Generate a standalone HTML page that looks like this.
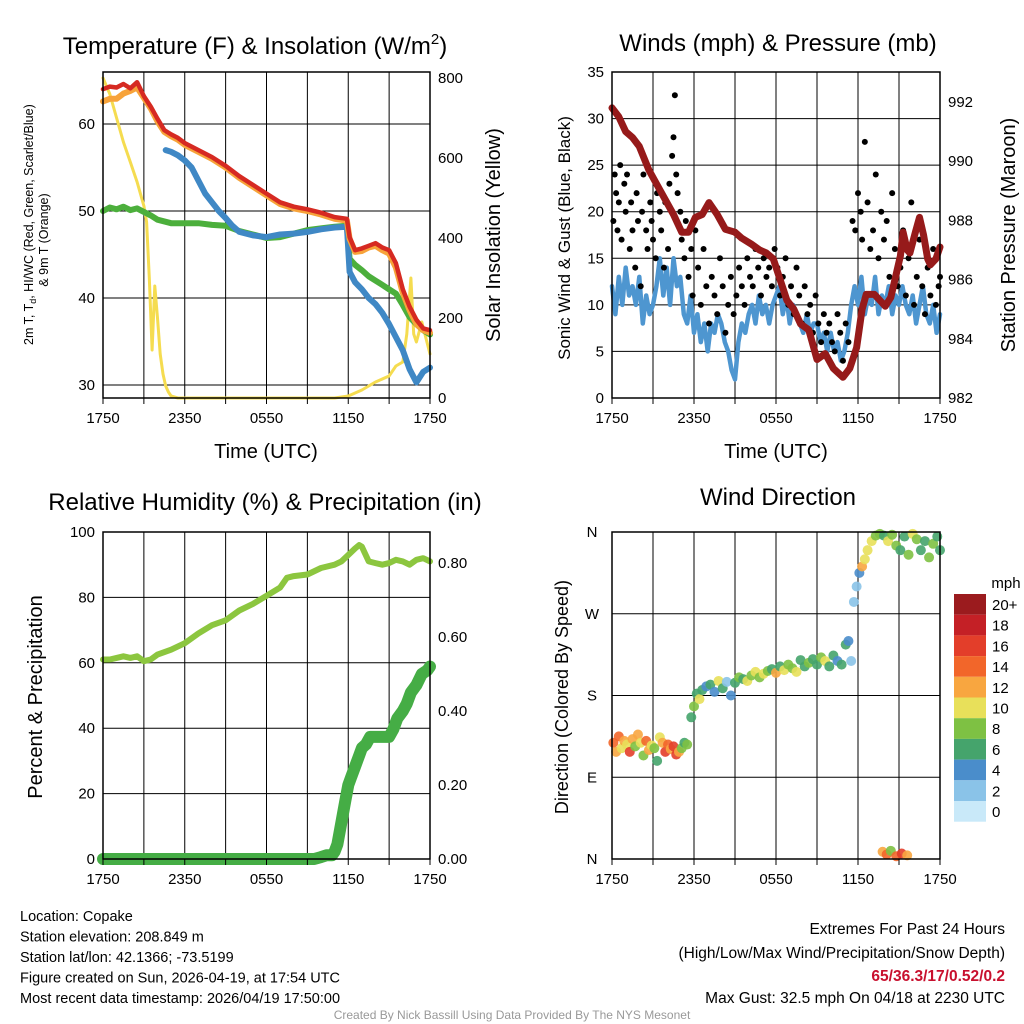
<!DOCTYPE html>
<html><head><meta charset="utf-8">
<style>
body{margin:0;background:#fff;}
svg{display:block;font-family:"Liberation Sans",sans-serif;}
</style></head>
<body>
<svg id="c" width="1024" height="1024" viewBox="0 0 1024 1024"></svg>
<script>
// ---------- DATA ----------
const xTickLabels = ["1750","2350","0550","1150","1750"];
const tempHours = [0,0.5,1,1.5,2,2.5,3,3.5,4,4.5,5,5.5,6,7,8,9,10,11,12,13,14,15,16,17,17.9,18.1,18.5,19,19.5,20,20.5,21,21.5,22,22.5,23,23.5,24];
const tempRed   = [64,64.3,64.2,64.6,64.1,64.8,63.2,62,60.6,59.3,58.8,58.4,57.8,57,56.2,55.2,54,53,52,51,50.5,50.2,49.8,49.3,49.1,47,45.5,45.7,46,46.3,45.8,45.5,44,41,39,37.5,36.5,36.3];
const tempOrange= [62.6,62.9,62.9,63.5,63.8,64.2,63,61.8,60.3,59.1,58.6,58.2,57.6,56.8,56,55,53.8,52.8,51.8,50.8,50.3,50,49.6,49.1,48.9,46.8,45.3,45.4,45.8,46,45.5,45.1,43.5,40.6,38.6,37,36.3,36];
const dewHours  = [0,0.5,1,1.5,2,2.5,3,3.5,4,5,6,7,8,9,10,11,12,13,14,15,16,17,17.9,18.1,18.5,19,19.5,20,20.5,21,21.5,22,22.5,23,23.5,24];
const dewGreen  = [50,50.4,50.2,50.5,50.1,50.3,49.9,49.5,49,48.6,48.6,48.6,48.4,48.3,47.7,47.3,46.9,47,47.4,47.8,48,48.2,48.3,44.5,43.8,43.2,42.5,42,41.5,41,40.5,39.2,37.8,37,36.3,35.8];
const hiHours   = [4.6,5,5.5,6,6.5,7,7.5,8,8.5,9,9.5,10,11,12,13,14,15,16,17,17.9,18.1,18.5,19,19.5,20,20.5,21,21.5,22,22.5,23,23.5,24];
const hiBlue    = [57,56.8,56.4,55.8,55,53.5,52,51,50,49.2,48.3,47.6,47.2,47,47.3,47.4,47.6,47.9,48.1,48.2,43,41.8,41,40,39.3,38.3,37,35.5,34,31.8,30.3,31.5,32];
const solarHours= [0,0.5,1,1.5,2,2.5,3,3.2,3.4,3.6,3.8,4.0,4.2,4.4,4.6,4.8,5,5.5,6,17,18,19,20,21,21.5,22,22.3,22.6,22.8,23,23.4,24];
const solarWm2  = [800,760,700,640,590,540,480,440,300,120,280,200,110,60,30,15,5,0,0,0,5,20,40,55,80,90,160,300,160,140,190,110];
const windHours = [0,0.25,0.5,0.75,1,1.25,1.5,1.75,2,2.25,2.5,2.75,3,3.25,3.5,3.75,4,4.25,4.5,4.75,5,5.25,5.5,5.75,6,6.25,6.5,6.75,7,7.25,7.5,7.75,8,8.25,8.5,8.75,9,9.25,9.5,9.75,10,10.25,10.5,10.75,11,11.25,11.5,11.75,12,12.25,12.5,12.75,13,13.25,13.5,13.75,14,14.25,14.5,14.75,15,15.25,15.5,15.75,16,16.25,16.5,16.75,17,17.25,17.5,17.75,18,18.25,18.5,18.75,19,19.25,19.5,19.75,20,20.25,20.5,20.75,21,21.25,21.5,21.75,22,22.25,22.5,22.75,23,23.25,23.5,23.75,24];
const sonicWind = [12,9,13,10,14,11,12,10,13,8,11,9,10,12,15,11,14,10,15,12,13,9,8,11,7,9,6,8,5,8,7,9,8,6,5,3,2,6,8,7,9,10,8,11,9,10,8,10,11,12,9,11,8,10,9,8,7,9,7,8,8,6,7,5,7,5,6,4,5,7,10,12,10,13,9,11,10,13,9,11,10,12,9,11,10,12,10,9,11,8,10,12,9,8,10,7,9,6,8];
const gustHours = [0.1,0.2,0.3,0.4,0.5,0.6,0.7,0.9,1.0,1.1,1.3,1.4,1.5,1.7,1.8,1.9,2.1,2.2,2.3,2.5,2.6,2.8,2.9,3.0,3.2,3.3,3.5,3.6,3.8,3.9,4.1,4.2,4.4,4.5,4.6,4.7,4.8,5.0,5.1,5.3,5.4,5.6,5.8,5.9,6.1,6.3,6.5,6.7,6.9,7.1,7.3,7.5,7.7,7.9,8.1,8.3,8.5,8.7,8.9,9.1,9.3,9.5,9.7,9.9,10.1,10.3,10.5,10.7,10.9,11.1,11.3,11.5,11.7,11.9,12.1,12.3,12.5,12.7,12.9,13.1,13.3,13.5,13.7,13.9,14.1,14.3,14.5,14.7,14.9,15.1,15.3,15.5,15.7,15.9,16.1,16.3,16.5,16.7,16.9,17.1,17.3,17.6,17.8,18.0,18.2,18.3,18.5,18.7,18.9,19.1,19.3,19.5,19.7,19.9,20.1,20.3,20.5,20.7,20.9,21.1,21.3,21.5,21.7,21.9,22.1,22.3,22.5,22.7,22.9,23.1,23.3,23.5,23.7,23.9,24];
const gustMph   = [19,24,22,18,21,25,17,23,20,24,16,21,18,14,22,19,12,20,24,18,16,21,19,17,15,22,20,18,14,21,16,23,26,28,32.5,24,22,20,17,15,19,13,16,11,18,14,10,16,12,8,13,11,9,15,12,7,10,13,9,11,14,12,10,15,13,12,16,14,11,15,13,14,12,16,14,11,13,15,10,12,9,14,11,8,12,9,10,7,11,8,6,9,7,8,6,5,9,7,4,8,6,19,18,22,20,17,27.5,21,16,18,24,15,20,17,19,13,22,16,12,14,18,11,15,21,10,13,17,12,9,14,11,16,10,12,13];
const presHours = [0,0.5,1,1.5,2,2.7,3.3,3.9,4.5,5.1,5.6,6.1,6.6,7.1,7.7,8.3,9,9.5,10.2,10.8,11.3,11.8,12.3,12.8,13.3,13.8,14.4,15,15.6,16.2,16.9,17.4,17.9,18.3,18.6,19.2,20,20.4,20.8,21.1,21.3,21.6,21.8,22.2,22.5,22.8,23.1,23.3,23.7,24];
const pressure  = [991.8,991.5,991.0,990.8,990.5,989.7,989.2,988.7,988.2,987.6,987.6,988.1,988.2,988.6,988.2,987.7,987.6,987.4,987.2,987.0,986.9,986.7,986.0,985.3,985.0,984.5,984.3,983.3,983.5,983.0,982.7,983.0,983.7,985.0,985.5,985.5,985.1,985.4,986.2,986.8,987.6,987.0,986.9,987.6,988.1,987.5,986.7,986.5,986.7,987.1];
const rhHours   = [0,0.5,1,1.5,2,2.5,3,3.5,4,5,6,7,8,9,10,11,12,13,13.5,14,15,16,17,17.5,18,18.5,18.8,19,19.5,20,20.5,21,21.5,22,22.5,23,23.5,24];
const rhPct     = [61,61,61.5,62,61.5,62,60.5,61,62.5,64,66,69,71.5,73,76,78,80.5,83,86,86.5,87,89,90,91,93,95,96,95.5,91,90.5,90,90.5,91.5,91,90,91.5,92,91];
const pcpHours  = [0,2,4,6,8,10,12,14,15.5,16,16.4,16.8,17,17.2,17.4,17.6,17.8,18,18.2,18.5,18.8,19,19.3,19.6,20,20.5,21,21.3,21.6,22,22.3,22.6,23,23.4,23.8,24];
const pcpIn     = [0,0,0,0,0,0,0,0,0,0.005,0.01,0.01,0.02,0.04,0.08,0.12,0.16,0.2,0.22,0.25,0.28,0.3,0.31,0.33,0.33,0.33,0.33,0.35,0.38,0.4,0.42,0.45,0.47,0.5,0.51,0.52];
const dirHours = [0.1,0.3,0.5,0.7,0.9,1.1,1.3,1.5,1.7,1.9,2.1,2.3,2.5,2.7,2.9,3.1,3.3,3.5,3.7,3.9,4.1,4.3,4.5,4.7,4.9,5.1,5.3,5.5,5.8,6.0,6.2,6.4,6.6,6.9,7.2,7.5,7.8,8.1,8.4,8.7,9.0,9.3,9.6,9.9,10.2,10.5,10.8,11.1,11.4,11.7,12.0,12.3,12.6,12.9,13.2,13.5,13.8,14.1,14.4,14.7,15.0,15.3,15.6,15.9,16.2,16.5,16.8,17.1,17.3,17.5,17.7,17.9,18.1,18.3,18.5,18.7,19.0,19.3,19.6,19.9,20.2,20.5,20.8,21.1,21.4,21.7,22.0,22.3,22.6,22.9,23.2,23.5,23.8,24.0,19.8,20.1,20.4,20.8,21.2,21.6];
const dirDeg   = [128,118,135,122,130,126,118,132,124,137,128,114,130,120,125,122,108,134,128,118,126,121,124,115,118,122,128,126,156,168,182,176,186,190,192,184,196,188,195,180,194,200,198,196,202,206,200,204,207,209,205,212,208,214,210,206,219,212,216,220,214,222,218,212,224,218,214,236,240,218,283,300,315,322,330,340,350,356,358,356,350,357,345,340,355,335,358,352,340,350,332,347,355,340,8,5,9,3,6,4];
const dirSpeed = [14,12,15,11,13,10,16,12,9,13,11,8,14,12,10,9,7,11,13,16,15,12,17,16,13,9,7,8,6,8,7,10,6,4,7,5,10,6,3,4,7,8,6,10,9,11,8,10,9,6,12,7,10,8,9,11,6,7,8,6,7,8,10,7,6,5,7,6,4,3,2,3,4,13,10,11,10,9,8,7,10,9,8,6,7,8,10,9,6,7,8,8,7,6,12,14,9,15,16,13];
const cbLabels = ["20+","18","16","14","12","10","8","6","4","2","0"];
const cbColors = ["#9b1b1e","#c42026","#e33e2a","#f2662a","#f8a640","#e8e05a","#7ec143","#45a46c","#4a8dcb","#8ac3e8","#c9e9f9"];
// ---------- HELPERS ----------
const svg = document.getElementById('c');
const NS = 'http://www.w3.org/2000/svg';
function mk(tag, attrs, parent){const e=document.createElementNS(NS,tag);for(const k in attrs)e.setAttribute(k,attrs[k]);(parent||svg).appendChild(e);return e;}
function txt(s,x,y,size,anchor,rot,name,fill,weight){
  const t=mk('text',{x:x,y:y,'font-size':size,'text-anchor':anchor||'middle',fill:fill||'#000'});
  if(weight)t.setAttribute('font-weight',weight);
  if(rot)t.setAttribute('transform','rotate('+rot+' '+x+' '+y+')');
  t.textContent=s;
  
  
  return t;
}
function panel(L,T,R,B,hlines,name){
  const g=mk('g',{});
  
  
  for(let i=1;i<8;i++){const x=L+(R-L)*i/8;const l=mk('line',{x1:x,y1:T,x2:x,y2:B,stroke:'#000','stroke-width':1},g);}
  hlines.forEach(y=>{const l=mk('line',{x1:L,y1:y,x2:R,y2:y,stroke:'#000','stroke-width':1},g);});
  return g;
}
function frame(L,T,R,B,name){const r=mk('rect',{x:L,y:T,width:R-L,height:B-T,fill:'none',stroke:'#000','stroke-width':1.5});}
function xaxis(L,R,B){
  xTickLabels.forEach((s,i)=>{const x=L+(R-L)*i/4;txt(s,x,B+25,15,'middle',0,'x-tick-label');});
  for(let i=0;i<=8;i++){const x=L+(R-L)*i/8;const l=mk('line',{x1:x,y1:B,x2:x,y2:B+6,stroke:'#000'});}
}
function poly(pts,color,w,name){const p=mk('polyline',{points:pts.map(p=>p[0].toFixed(1)+','+p[1].toFixed(1)).join(' '),fill:'none',stroke:color,'stroke-width':w,'stroke-linejoin':'round','stroke-linecap':'round'});return p;}
function speedColor(s){let i=Math.min(10,Math.floor(s/2));return cbColors[10-i];}

// ---------- PANEL 1 ----------
{
const L=103,R=430,T=72,B=398;
const xs=h=>L+h*(R-L)/24;
const yT=v=>385-(v-30)*8.7;
const yS=v=>398-v*(398-78)/800;
panel(L,T,R,B,[yT(30),yT(40),yT(50),yT(60)],'temperature-grid');
poly(solarHours.map((h,i)=>[xs(h),yS(solarWm2[i])]),'#f5dc50',3,'solar-insolation-line');
poly(dewHours.map((h,i)=>[xs(h),yT(dewGreen[i])]),'#4caf3c',6,'dewpoint-line');
poly(hiHours.map((h,i)=>[xs(h),yT(hiBlue[i])]),'#3f88c5',6,'heat-index-windchill-line');
poly(tempHours.map((h,i)=>[xs(h),yT(tempOrange[i])]),'#f7a33a',6,'temperature-9m-line');
poly(tempHours.map((h,i)=>[xs(h),yT(tempRed[i])]),'#d62a22',4.5,'temperature-2m-line');
frame(L,T,R,B,'temperature-plot-frame');
xaxis(L,R,B);
[30,40,50,60].forEach(v=>txt(String(v),L-8,yT(v)+5,15,'end',0,'y-tick-label-temperature'));
[0,200,400,600,800].forEach(v=>txt(String(v),R+8,yS(v)+5,15,'start',0,'y-tick-label-solar'));
const t=txt('Temperature (F) & Insolation (W/m',255,54,24,'middle',0,'temperature-panel-title');
const sp=mk('tspan',{dy:-10,'font-size':15},t);sp.textContent='2';
const sp2=mk('tspan',{dy:10},t);sp2.textContent=')';
txt('Time (UTC)',266,458,20,'middle',0,'x-axis-title');
txt('2m T, T',33,345,12.5,'start',-90,'temperature-y-axis-title').innerHTML='2m T, T<tspan font-size="9" dy="3">d</tspan><tspan dy="-3">, HI/WC (Red, Green, Scarlet/Blue)</tspan>';
txt('& 9m T (Orange)',48,240,12.5,'middle',-90,'temperature-y-axis-title-line2');
txt('Solar Insolation (Yellow)',500,235,20,'middle',-90,'solar-y-axis-title');
}
// ---------- PANEL 2 ----------
{
const L=612,R=940,T=72,B=398;
const xs=h=>L+h*(R-L)/24;
const yW=v=>398-v*9.314;
const yP=v=>398-(v-982)*29.6;
panel(L,T,R,B,[1,2,3,4,5,6].map(i=>yW(i*5)),'winds-grid');
poly(windHours.map((h,i)=>[xs(h),yW(sonicWind[i])]),'#4e96d0',4.5,'sonic-wind-line');
gustHours.forEach((h,i)=>{const c=mk('circle',{cx:xs(h),cy:yW(gustMph[i]),r:3,fill:'#000'});});
poly(presHours.map((h,i)=>[xs(h),yP(pressure[i])]),'#961a1a',7,'station-pressure-line');
frame(L,T,R,B,'winds-plot-frame');
xaxis(L,R,B);
[0,5,10,15,20,25,30,35].forEach(v=>txt(String(v),L-8,yW(v)+5,15,'end',0,'y-tick-label-wind'));
[982,984,986,988,990,992].forEach(v=>txt(String(v),R+8,yP(v)+5,15,'start',0,'y-tick-label-pressure'));
txt('Winds (mph) & Pressure (mb)',778,51,24,'middle',0,'winds-panel-title');
txt('Time (UTC)',776,458,20,'middle',0,'x-axis-title');
txt('Sonic Wind & Gust (Blue, Black)',570,238,17,'middle',-90,'wind-y-axis-title');
txt('Station Pressure (Maroon)',1015,235,20,'middle',-90,'pressure-y-axis-title');
}
// ---------- PANEL 3 ----------
{
const L=103,R=430,T=532,B=859;
const xs=h=>L+h*(R-L)/24;
const yR=v=>859-v*3.27;
const yI=v=>859-v*370;
panel(L,T,R,B,[0,20,40,60,80,100].map(yR),'humidity-grid');
poly(rhHours.map((h,i)=>[xs(h),yR(rhPct[i])]),'#8cc63f',6,'relative-humidity-line');
poly(pcpHours.map((h,i)=>[xs(h),yI(pcpIn[i])]),'#45ad45',12,'precipitation-line');
frame(L,T,R,B,'humidity-plot-frame');
xaxis(L,R,B);
[0,20,40,60,80,100].forEach(v=>txt(String(v),L-8,yR(v)+5,15,'end',0,'y-tick-label-percent'));
['0.00','0.20','0.40','0.60','0.80'].forEach(v=>txt(v,R+8,yI(+v)+5,15,'start',0,'y-tick-label-precip'));
txt('Relative Humidity (%) & Precipitation (in)',265,510,24,'middle',0,'humidity-panel-title');
txt('Percent & Precipitation',42,697,20,'middle',-90,'humidity-y-axis-title');
}
// ---------- PANEL 4 ----------
{
const L=612,R=940,T=532,B=859;
const xs=h=>L+h*(R-L)/24;
const yD=v=>859-v*327/360;
panel(L,T,R,B,[90,180,270,360].map(yD),'direction-grid');
dirHours.forEach((h,i)=>{const c=mk('circle',{cx:xs(h),cy:yD(dirDeg[i]),r:5,fill:speedColor(dirSpeed[i]),opacity:0.9});});
frame(L,T,R,B,'direction-plot-frame');
xaxis(L,R,B);
['N','E','S','W','N'].forEach((s,i)=>txt(s,L-20,yD(i*90)+5,15,'middle',0,'y-tick-label-direction'));
txt('Wind Direction',778,505,24,'middle',0,'direction-panel-title');
txt('Direction (Colored By Speed)',568,697,18,'middle',-90,'direction-y-axis-title');
txt('mph',1006,588,15,'middle',0,'colorbar-title');
cbColors.forEach((c,i)=>{const r=mk('rect',{x:954,y:594+i*20.7,width:32,height:20.7,fill:c});
 txt(cbLabels[i],992,594+i*20.7+16,15,'start',0,'colorbar-label');});
}
// ---------- FOOTER ----------
['Location: Copake','Station elevation: 208.849 m','Station lat/lon: 42.1366; -73.5199','Figure created on Sun, 2026-04-19, at 17:54 UTC','Most recent data timestamp: 2026/04/19 17:50:00'].forEach((s,i)=>txt(s,20,921+i*20.5,14.5,'start',0,'station-info-line'));
txt('Extremes For Past 24 Hours',1005,934,15.5,'end',0,'extremes-title');
txt('(High/Low/Max Wind/Precipitation/Snow Depth)',1005,958,15.5,'end',0,'extremes-subtitle');
txt('65/36.3/17/0.52/0.2',1005,981,15.5,'end',0,'extremes-values','#c8102e','bold');
txt('Max Gust: 32.5 mph On 04/18 at 2230 UTC',1005,1003,15.5,'end',0,'max-gust-text');
txt('Created By Nick Bassill Using Data Provided By The NYS Mesonet',512,1019,12,'middle',0,'credit-text','#999');
</script>
</body></html>
